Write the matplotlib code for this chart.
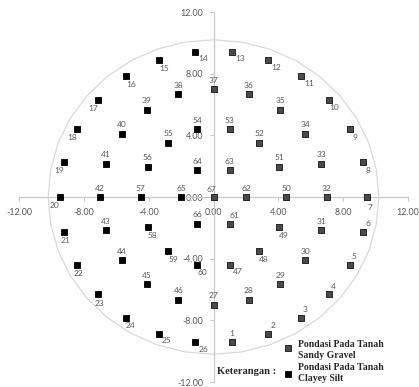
import matplotlib
matplotlib.use("Agg")
import matplotlib.pyplot as plt
from matplotlib.patches import RegularPolygon
from matplotlib.ticker import FormatStrFormatter

# pile positions (x, y) in metres, numbered 1..67
pile_no = list(range(1, 68))
pile_x = [1.14, 3.37, 5.40, 7.11, 8.41, 9.22, 9.50, 9.22, 8.41, 7.11, 5.40, 3.37, 1.14,
          -1.14, -3.37, -5.40, -7.11, -8.41, -9.22, -9.50, -9.22, -8.41, -7.11, -5.40, -3.37, -1.14,
          0.00, 2.16, 4.11, 5.66, 6.66, 7.00, 6.66, 5.66, 4.11, 2.16, 0.00,
          -2.16, -4.11, -5.66, -6.66, -7.00, -6.66, -5.66, -4.11, -2.16,
          1.00, 2.81, 4.05, 4.50, 4.05, 2.81, 1.00,
          -1.00, -2.81, -4.05, -4.50, -4.05, -2.81, -1.00,
          1.00, 2.00, 1.00, -1.00, -2.00, -1.00, 0.00]
pile_y = [-9.43, -8.88, -7.82, -6.30, -4.41, -2.27, 0.00, 2.27, 4.41, 6.30, 7.82, 8.88, 9.43,
          9.43, 8.88, 7.82, 6.30, 4.41, 2.27, 0.00, -2.27, -4.41, -6.30, -7.82, -8.88, -9.43,
          -7.00, -6.66, -5.66, -4.11, -2.16, 0.00, 2.16, 4.11, 5.66, 6.66, 7.00,
          6.66, 5.66, 4.11, 2.16, 0.00, -2.16, -4.11, -5.66, -6.66,
          -4.39, -3.52, -1.95, 0.00, 1.95, 3.52, 4.39,
          4.39, 3.52, 1.95, 0.00, -1.95, -3.52, -4.39,
          -1.73, 0.00, 1.73, 1.73, 0.00, -1.73, 0.00]

# piles founded on sandy gravel, the rest on clayey silt
gravel_no = list(range(1, 14)) + list(range(27, 38)) + list(range(47, 54)) + [61, 62, 63, 67]

legend_labels = ["Pondasi Pada Tanah\nSandy Gravel", "Pondasi Pada Tanah\nClayey Silt"]
ticks = [-12, -8, -4, 0, 4, 8, 12]

# label offset (pixels) around each marker
offsets = {"a": (0, 9), "ar": (4.5, 8), "al": (-2, 8), "b": (1, -9), "bb": (3, -10.5),
           "br": (5, -8), "rb": (8, -7), "bl": (-5, -8.5)}
label_pos = {}
for n in pile_no:
    label_pos[n] = "a"
for n in [2, 3, 4, 5, 6, 61]:
    label_pos[n] = "ar"
for n in [8, 9, 10, 15, 16, 24, 48, 49, 58, 59, 60]:
    label_pos[n] = "br"
for n in [11, 12, 13, 14, 25, 26, 47]:
    label_pos[n] = "rb"
for n in [17, 18, 19, 20]:
    label_pos[n] = "bl"
for n in [21, 22, 23]:
    label_pos[n] = "b"
label_pos[7] = "bb"
label_pos[67] = "al"

W, H = 419, 387
fig = plt.figure(figsize=(W / 100, H / 100), dpi=100)
ax = fig.add_axes([19 / W, 1 - 382 / H, (408 - 19) / W, (382 - 12) / H])

ax.add_patch(RegularPolygon((0, 0), numVertices=36, radius=10.2, orientation=0,
                            fill=False, edgecolor="#d9d9d9", linewidth=0.9, zorder=1))

gray_x = [x for n, x in zip(pile_no, pile_x) if n in gravel_no]
gray_y = [y for n, y in zip(pile_no, pile_y) if n in gravel_no]
black_x = [x for n, x in zip(pile_no, pile_x) if n not in gravel_no]
black_y = [y for n, y in zip(pile_no, pile_y) if n not in gravel_no]

ax.scatter(gray_x, gray_y, marker="s", s=24, facecolor="#4a4a4a", edgecolor="#111111",
           linewidth=0.6, zorder=3)
ax.scatter(black_x, black_y, marker="s", s=24, facecolor="black", edgecolor="black",
           linewidth=0.6, zorder=3)

for n, x, y in zip(pile_no, pile_x, pile_y):
    dx, dy = offsets[label_pos[n]]
    ax.annotate(str(n), (x, y), xytext=(dx * 0.72, dy * 0.72), textcoords="offset points",
                ha="center", va="center", fontsize=6, family="Lato", color="#595959",
                zorder=4)

ax.set_xlim(-12, 12)
ax.set_ylim(-12, 12)
ax.set_xticks(ticks)
ax.set_yticks(ticks)
ax.xaxis.set_major_formatter(FormatStrFormatter("%.2f"))
ax.yaxis.set_major_formatter(FormatStrFormatter("%.2f"))
for side in ["top", "right"]:
    ax.spines[side].set_visible(False)
for side in ["left", "bottom"]:
    ax.spines[side].set_position(("data", 0))
    ax.spines[side].set_color("#c8c8c8")
    ax.spines[side].set_linewidth(0.9)
ax.tick_params(axis="both", direction="out", length=3, width=0.8, color="#c8c8c8",
               labelsize=6.4, labelcolor="#595959")
ax.tick_params(axis="x", pad=5)
ax.tick_params(axis="y", pad=4.5)
for lab in ax.get_xticklabels() + ax.get_yticklabels():
    lab.set_family("Lato")
ax.set_facecolor("none")

# legend block
serif = dict(family="Liberation Serif", fontweight="bold", fontsize=7, color="#262626",
             va="center", ha="left", linespacing=1.15)
fig.text(217 / W, 1 - 372 / H, "Keterangan :", **dict(serif, fontsize=7.6))
fig.text(298 / W, 1 - 350 / H, legend_labels[0], **serif)
fig.text(298 / W, 1 - 373 / H, legend_labels[1], **serif)
fig.add_artist(plt.Line2D([288 / W], [1 - 348 / H], marker="s", markersize=5,
                          markerfacecolor="#4a4a4a", markeredgecolor="#111111",
                          markeredgewidth=0.6, transform=fig.transFigure))
fig.add_artist(plt.Line2D([288 / W], [1 - 374 / H], marker="s", markersize=5,
                          markerfacecolor="black", markeredgecolor="black",
                          markeredgewidth=0.6, transform=fig.transFigure))

fig.savefig("out.png", dpi=100)
